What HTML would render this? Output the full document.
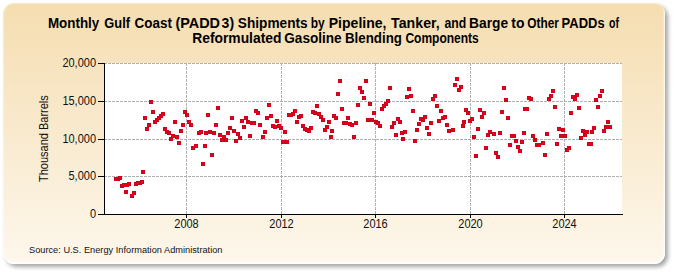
<!DOCTYPE html>
<html><head><meta charset="utf-8"><style>
html,body{margin:0;padding:0;background:#fff;width:675px;height:275px;overflow:hidden}
.frame{position:absolute;left:3px;top:3px;width:662px;height:261px;border-radius:11px;background:linear-gradient(to bottom,#f5ddb0,#fdf7ec);box-shadow:inset -1px -2px 2px rgba(255,255,255,0.9),inset 1px 1px 1px rgba(255,255,255,0.4),3px 3px 4px rgba(0,0,0,0.35)}
svg{position:absolute;left:0;top:0}
text{font-family:"Liberation Sans",sans-serif}
</style></head><body>
<div class="frame"></div>
<svg width="675" height="275" viewBox="0 0 675 275">
<g font-size="13" font-weight="bold" fill="#000"><text transform="translate(47.97,28) scale(1.031,1.11)">Monthly</text><text transform="translate(104.30,28) scale(0.989,1.11)">Gulf</text><text transform="translate(134.60,28) scale(1.033,1.11)">Coast</text><text transform="translate(175.40,28) scale(1.110,1.11)">(PADD</text><text transform="translate(221.60,28) scale(1.082,1.11)">3)</text><text transform="translate(237.80,28) scale(1.052,1.11)">Shipments</text><text transform="translate(310.78,28) scale(0.921,1.11)">by</text><text transform="translate(328.72,28) scale(1.081,1.11)">Pipeline,</text><text transform="translate(391.10,28) scale(1.091,1.11)">Tanker,</text><text transform="translate(444.40,28) scale(0.943,1.11)">and</text><text transform="translate(469.04,28) scale(1.061,1.11)">Barge</text><text transform="translate(511.30,28) scale(1.075,1.11)">to</text><text transform="translate(527.30,28) scale(0.914,1.11)">Other</text><text transform="translate(561.60,28) scale(0.998,1.11)">PADDs</text><text transform="translate(609.00,28) scale(0.808,1.11)">of</text><text transform="translate(192.23,43) scale(1.066,1.11)">Reformulated</text><text transform="translate(284.30,43) scale(1.045,1.11)">Gasoline</text><text transform="translate(344.98,43) scale(1.024,1.11)">Blending</text><text transform="translate(405.40,43) scale(0.925,1.11)">Components</text></g>
<rect x="104" y="63" width="518" height="151" fill="#fff"/>
<g stroke="#b0b0b0" stroke-width="1" stroke-dasharray="3,1" fill="none"><line x1="104" y1="63.5" x2="622" y2="63.5"/><line x1="104" y1="101.5" x2="622" y2="101.5"/><line x1="104" y1="139.5" x2="622" y2="139.5"/><line x1="104" y1="176.5" x2="622" y2="176.5"/><line x1="186.5" y1="63" x2="186.5" y2="214"/><line x1="281.5" y1="63" x2="281.5" y2="214"/><line x1="375.5" y1="63" x2="375.5" y2="214"/><line x1="470.5" y1="63" x2="470.5" y2="214"/><line x1="564.5" y1="63" x2="564.5" y2="214"/></g>
<g fill="#e6001e" stroke="#cf001a" stroke-width="1"><rect x="114.5" y="177.5" width="3" height="3"/><rect x="116.5" y="177.5" width="3" height="3"/><rect x="118.5" y="176.5" width="3" height="3"/><rect x="120.5" y="184.5" width="3" height="3"/><rect x="122.5" y="183.5" width="3" height="3"/><rect x="124.5" y="190.5" width="3" height="3"/><rect x="125.5" y="183.5" width="3" height="3"/><rect x="127.5" y="182.5" width="3" height="3"/><rect x="130.5" y="194.5" width="3" height="3"/><rect x="132.5" y="191.5" width="3" height="3"/><rect x="134.5" y="182.5" width="3" height="3"/><rect x="136.5" y="181.5" width="3" height="3"/><rect x="138.5" y="181.5" width="3" height="3"/><rect x="140.5" y="180.5" width="3" height="3"/><rect x="141.5" y="170.5" width="3" height="3"/><rect x="143.5" y="116.5" width="3" height="3"/><rect x="145.5" y="127.5" width="3" height="3"/><rect x="147.5" y="123.5" width="3" height="3"/><rect x="149.5" y="100.5" width="3" height="3"/><rect x="151.5" y="110.5" width="3" height="3"/><rect x="153.5" y="120.5" width="3" height="3"/><rect x="155.5" y="118.5" width="3" height="3"/><rect x="157.5" y="116.5" width="3" height="3"/><rect x="159.5" y="114.5" width="3" height="3"/><rect x="161.5" y="112.5" width="3" height="3"/><rect x="163.5" y="127.5" width="3" height="3"/><rect x="165.5" y="130.5" width="3" height="3"/><rect x="167.5" y="131.5" width="3" height="3"/><rect x="169.5" y="137.5" width="3" height="3"/><rect x="171.5" y="134.5" width="3" height="3"/><rect x="173.5" y="120.5" width="3" height="3"/><rect x="175.5" y="135.5" width="3" height="3"/><rect x="177.5" y="141.5" width="3" height="3"/><rect x="179.5" y="129.5" width="3" height="3"/><rect x="181.5" y="123.5" width="3" height="3"/><rect x="183.5" y="110.5" width="3" height="3"/><rect x="185.5" y="113.5" width="3" height="3"/><rect x="187.5" y="120.5" width="3" height="3"/><rect x="189.5" y="123.5" width="3" height="3"/><rect x="191.5" y="146.5" width="3" height="3"/><rect x="194.5" y="144.5" width="3" height="3"/><rect x="197.5" y="131.5" width="3" height="3"/><rect x="199.5" y="130.5" width="3" height="3"/><rect x="201.5" y="162.5" width="3" height="3"/><rect x="203.5" y="144.5" width="3" height="3"/><rect x="204.5" y="131.5" width="3" height="3"/><rect x="206.5" y="113.5" width="3" height="3"/><rect x="208.5" y="130.5" width="3" height="3"/><rect x="210.5" y="153.5" width="3" height="3"/><rect x="212.5" y="131.5" width="3" height="3"/><rect x="214.5" y="123.5" width="3" height="3"/><rect x="216.5" y="106.5" width="3" height="3"/><rect x="218.5" y="133.5" width="3" height="3"/><rect x="220.5" y="138.5" width="3" height="3"/><rect x="222.5" y="135.5" width="3" height="3"/><rect x="224.5" y="138.5" width="3" height="3"/><rect x="226.5" y="131.5" width="3" height="3"/><rect x="228.5" y="126.5" width="3" height="3"/><rect x="230.5" y="116.5" width="3" height="3"/><rect x="232.5" y="129.5" width="3" height="3"/><rect x="234.5" y="139.5" width="3" height="3"/><rect x="236.5" y="132.5" width="3" height="3"/><rect x="238.5" y="136.5" width="3" height="3"/><rect x="240.5" y="119.5" width="3" height="3"/><rect x="242.5" y="125.5" width="3" height="3"/><rect x="244.5" y="116.5" width="3" height="3"/><rect x="246.5" y="120.5" width="3" height="3"/><rect x="248.5" y="134.5" width="3" height="3"/><rect x="250.5" y="121.5" width="3" height="3"/><rect x="252.5" y="121.5" width="3" height="3"/><rect x="254.5" y="109.5" width="3" height="3"/><rect x="256.5" y="111.5" width="3" height="3"/><rect x="258.5" y="123.5" width="3" height="3"/><rect x="261.5" y="135.5" width="3" height="3"/><rect x="263.5" y="130.5" width="3" height="3"/><rect x="265.5" y="116.5" width="3" height="3"/><rect x="267.5" y="103.5" width="3" height="3"/><rect x="269.5" y="114.5" width="3" height="3"/><rect x="271.5" y="124.5" width="3" height="3"/><rect x="273.5" y="125.5" width="3" height="3"/><rect x="275.5" y="119.5" width="3" height="3"/><rect x="277.5" y="124.5" width="3" height="3"/><rect x="279.5" y="126.5" width="3" height="3"/><rect x="281.5" y="140.5" width="3" height="3"/><rect x="283.5" y="130.5" width="3" height="3"/><rect x="285.5" y="140.5" width="3" height="3"/><rect x="287.5" y="113.5" width="3" height="3"/><rect x="289.5" y="113.5" width="3" height="3"/><rect x="291.5" y="112.5" width="3" height="3"/><rect x="293.5" y="109.5" width="3" height="3"/><rect x="295.5" y="120.5" width="3" height="3"/><rect x="297.5" y="115.5" width="3" height="3"/><rect x="299.5" y="114.5" width="3" height="3"/><rect x="301.5" y="124.5" width="3" height="3"/><rect x="303.5" y="127.5" width="3" height="3"/><rect x="305.5" y="128.5" width="3" height="3"/><rect x="307.5" y="129.5" width="3" height="3"/><rect x="309.5" y="126.5" width="3" height="3"/><rect x="311.5" y="110.5" width="3" height="3"/><rect x="313.5" y="111.5" width="3" height="3"/><rect x="315.5" y="104.5" width="3" height="3"/><rect x="317.5" y="112.5" width="3" height="3"/><rect x="319.5" y="115.5" width="3" height="3"/><rect x="321.5" y="118.5" width="3" height="3"/><rect x="323.5" y="128.5" width="3" height="3"/><rect x="325.5" y="125.5" width="3" height="3"/><rect x="327.5" y="120.5" width="3" height="3"/><rect x="329.5" y="135.5" width="3" height="3"/><rect x="330.5" y="129.5" width="3" height="3"/><rect x="332.5" y="114.5" width="3" height="3"/><rect x="334.5" y="116.5" width="3" height="3"/><rect x="336.5" y="92.5" width="3" height="3"/><rect x="338.5" y="79.5" width="3" height="3"/><rect x="340.5" y="107.5" width="3" height="3"/><rect x="342.5" y="121.5" width="3" height="3"/><rect x="344.5" y="121.5" width="3" height="3"/><rect x="346.5" y="116.5" width="3" height="3"/><rect x="348.5" y="122.5" width="3" height="3"/><rect x="350.5" y="123.5" width="3" height="3"/><rect x="352.5" y="135.5" width="3" height="3"/><rect x="354.5" y="121.5" width="3" height="3"/><rect x="356.5" y="103.5" width="3" height="3"/><rect x="358.5" y="86.5" width="3" height="3"/><rect x="360.5" y="90.5" width="3" height="3"/><rect x="362.5" y="96.5" width="3" height="3"/><rect x="364.5" y="79.5" width="3" height="3"/><rect x="366.5" y="118.5" width="3" height="3"/><rect x="368.5" y="102.5" width="3" height="3"/><rect x="368.5" y="118.5" width="3" height="3"/><rect x="370.5" y="118.5" width="3" height="3"/><rect x="372.5" y="111.5" width="3" height="3"/><rect x="374.5" y="120.5" width="3" height="3"/><rect x="376.5" y="121.5" width="3" height="3"/><rect x="378.5" y="124.5" width="3" height="3"/><rect x="380.5" y="107.5" width="3" height="3"/><rect x="382.5" y="104.5" width="3" height="3"/><rect x="384.5" y="102.5" width="3" height="3"/><rect x="386.5" y="99.5" width="3" height="3"/><rect x="388.5" y="86.5" width="3" height="3"/><rect x="390.5" y="125.5" width="3" height="3"/><rect x="392.5" y="121.5" width="3" height="3"/><rect x="394.5" y="133.5" width="3" height="3"/><rect x="396.5" y="117.5" width="3" height="3"/><rect x="398.5" y="120.5" width="3" height="3"/><rect x="400.5" y="131.5" width="3" height="3"/><rect x="401.5" y="137.5" width="3" height="3"/><rect x="403.5" y="130.5" width="3" height="3"/><rect x="405.5" y="95.5" width="3" height="3"/><rect x="407.5" y="87.5" width="3" height="3"/><rect x="409.5" y="94.5" width="3" height="3"/><rect x="411.5" y="109.5" width="3" height="3"/><rect x="413.5" y="139.5" width="3" height="3"/><rect x="415.5" y="128.5" width="3" height="3"/><rect x="417.5" y="122.5" width="3" height="3"/><rect x="419.5" y="117.5" width="3" height="3"/><rect x="421.5" y="118.5" width="3" height="3"/><rect x="423.5" y="115.5" width="3" height="3"/><rect x="425.5" y="126.5" width="3" height="3"/><rect x="427.5" y="132.5" width="3" height="3"/><rect x="429.5" y="121.5" width="3" height="3"/><rect x="431.5" y="97.5" width="3" height="3"/><rect x="433.5" y="94.5" width="3" height="3"/><rect x="435.5" y="104.5" width="3" height="3"/><rect x="437.5" y="119.5" width="3" height="3"/><rect x="439.5" y="109.5" width="3" height="3"/><rect x="441.5" y="116.5" width="3" height="3"/><rect x="443.5" y="115.5" width="3" height="3"/><rect x="445.5" y="123.5" width="3" height="3"/><rect x="447.5" y="129.5" width="3" height="3"/><rect x="451.5" y="128.5" width="3" height="3"/><rect x="453.5" y="83.5" width="3" height="3"/><rect x="455.5" y="77.5" width="3" height="3"/><rect x="457.5" y="88.5" width="3" height="3"/><rect x="459.5" y="85.5" width="3" height="3"/><rect x="461.5" y="124.5" width="3" height="3"/><rect x="462.5" y="120.5" width="3" height="3"/><rect x="464.5" y="108.5" width="3" height="3"/><rect x="466.5" y="111.5" width="3" height="3"/><rect x="468.5" y="119.5" width="3" height="3"/><rect x="470.5" y="117.5" width="3" height="3"/><rect x="472.5" y="135.5" width="3" height="3"/><rect x="474.5" y="154.5" width="3" height="3"/><rect x="476.5" y="127.5" width="3" height="3"/><rect x="478.5" y="108.5" width="3" height="3"/><rect x="480.5" y="115.5" width="3" height="3"/><rect x="482.5" y="111.5" width="3" height="3"/><rect x="484.5" y="146.5" width="3" height="3"/><rect x="486.5" y="133.5" width="3" height="3"/><rect x="488.5" y="130.5" width="3" height="3"/><rect x="492.5" y="132.5" width="3" height="3"/><rect x="494.5" y="151.5" width="3" height="3"/><rect x="496.5" y="155.5" width="3" height="3"/><rect x="498.5" y="131.5" width="3" height="3"/><rect x="500.5" y="110.5" width="3" height="3"/><rect x="502.5" y="86.5" width="3" height="3"/><rect x="504.5" y="98.5" width="3" height="3"/><rect x="506.5" y="116.5" width="3" height="3"/><rect x="508.5" y="143.5" width="3" height="3"/><rect x="510.5" y="134.5" width="3" height="3"/><rect x="512.5" y="134.5" width="3" height="3"/><rect x="514.5" y="139.5" width="3" height="3"/><rect x="516.5" y="145.5" width="3" height="3"/><rect x="518.5" y="149.5" width="3" height="3"/><rect x="520.5" y="140.5" width="3" height="3"/><rect x="522.5" y="131.5" width="3" height="3"/><rect x="523.5" y="107.5" width="3" height="3"/><rect x="525.5" y="107.5" width="3" height="3"/><rect x="527.5" y="96.5" width="3" height="3"/><rect x="529.5" y="97.5" width="3" height="3"/><rect x="531.5" y="134.5" width="3" height="3"/><rect x="533.5" y="138.5" width="3" height="3"/><rect x="535.5" y="143.5" width="3" height="3"/><rect x="537.5" y="143.5" width="3" height="3"/><rect x="541.5" y="141.5" width="3" height="3"/><rect x="543.5" y="153.5" width="3" height="3"/><rect x="545.5" y="132.5" width="3" height="3"/><rect x="547.5" y="97.5" width="3" height="3"/><rect x="549.5" y="94.5" width="3" height="3"/><rect x="551.5" y="89.5" width="3" height="3"/><rect x="553.5" y="105.5" width="3" height="3"/><rect x="555.5" y="142.5" width="3" height="3"/><rect x="557.5" y="127.5" width="3" height="3"/><rect x="559.5" y="134.5" width="3" height="3"/><rect x="561.5" y="128.5" width="3" height="3"/><rect x="563.5" y="134.5" width="3" height="3"/><rect x="565.5" y="148.5" width="3" height="3"/><rect x="567.5" y="146.5" width="3" height="3"/><rect x="569.5" y="111.5" width="3" height="3"/><rect x="571.5" y="95.5" width="3" height="3"/><rect x="573.5" y="97.5" width="3" height="3"/><rect x="575.5" y="93.5" width="3" height="3"/><rect x="577.5" y="106.5" width="3" height="3"/><rect x="579.5" y="136.5" width="3" height="3"/><rect x="581.5" y="129.5" width="3" height="3"/><rect x="583.5" y="133.5" width="3" height="3"/><rect x="585.5" y="130.5" width="3" height="3"/><rect x="587.5" y="142.5" width="3" height="3"/><rect x="589.5" y="142.5" width="3" height="3"/><rect x="590.5" y="130.5" width="3" height="3"/><rect x="592.5" y="126.5" width="3" height="3"/><rect x="594.5" y="98.5" width="3" height="3"/><rect x="596.5" y="105.5" width="3" height="3"/><rect x="598.5" y="94.5" width="3" height="3"/><rect x="600.5" y="89.5" width="3" height="3"/><rect x="602.5" y="129.5" width="3" height="3"/><rect x="604.5" y="125.5" width="3" height="3"/><rect x="606.5" y="120.5" width="3" height="3"/><rect x="606.5" y="125.5" width="3" height="3"/><rect x="608.5" y="125.5" width="3" height="3"/></g>
<g stroke="#000" stroke-width="1" fill="none">
<line x1="104.5" y1="63" x2="104.5" y2="215"/>
<line x1="104" y1="214.5" x2="623" y2="214.5"/>
<line x1="98" y1="63.5" x2="104" y2="63.5"/><line x1="98" y1="101.5" x2="104" y2="101.5"/><line x1="98" y1="139.5" x2="104" y2="139.5"/><line x1="98" y1="176.5" x2="104" y2="176.5"/><line x1="98" y1="214.5" x2="104" y2="214.5"/><line x1="186.5" y1="214" x2="186.5" y2="218"/><line x1="281.5" y1="214" x2="281.5" y2="218"/><line x1="375.5" y1="214" x2="375.5" y2="218"/><line x1="470.5" y1="214" x2="470.5" y2="218"/><line x1="564.5" y1="214" x2="564.5" y2="218"/>
</g>
<g font-size="11" fill="#111"><text transform="translate(96,67) scale(1,1.11)" text-anchor="end">20,000</text><text transform="translate(96,105) scale(1,1.11)" text-anchor="end">15,000</text><text transform="translate(96,143) scale(1,1.11)" text-anchor="end">10,000</text><text transform="translate(96,180) scale(1,1.11)" text-anchor="end">5,000</text><text transform="translate(96,218) scale(1,1.11)" text-anchor="end">0</text><text transform="translate(186.5,228) scale(1,1.11)" text-anchor="middle">2008</text><text transform="translate(281.5,228) scale(1,1.11)" text-anchor="middle">2012</text><text transform="translate(375.5,228) scale(1,1.11)" text-anchor="middle">2016</text><text transform="translate(470.5,228) scale(1,1.11)" text-anchor="middle">2020</text><text transform="translate(564.5,228) scale(1,1.11)" text-anchor="middle">2024</text></g>
<text transform="translate(48,138.6) rotate(-90) scale(1,1.11)" text-anchor="middle" font-size="11" fill="#111">Thousand Barrels</text>
<text transform="translate(29,253) scale(1,1.05)" font-size="9.2" fill="#111" textLength="193.5" lengthAdjust="spacing">Source: U.S. Energy Information Administration</text>
</svg>
</body></html>
